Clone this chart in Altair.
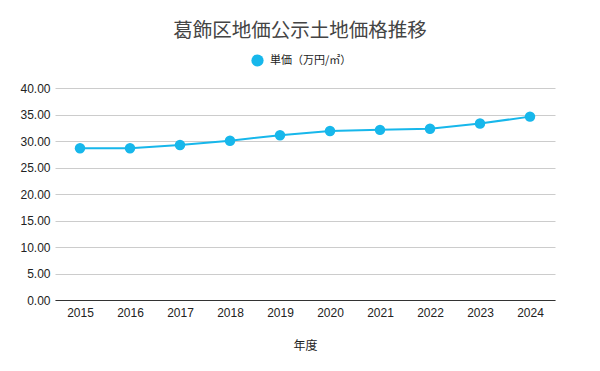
import altair as alt
import pandas as pd

years = ["2015", "2016", "2017", "2018", "2019", "2020", "2021", "2022", "2023", "2024"]
prices = [28.63, 28.63, 29.25, 30.06, 31.1, 31.9, 32.1, 32.3, 33.3, 34.6]
series_name = "単価（万円/㎡）"

df = pd.DataFrame({"年度": years, "単価": prices, "系列": [series_name] * len(years)})

COLOR = "#17b7eb"
FONT = "Liberation Sans, Noto Sans CJK JP, sans-serif"

x = alt.X(
    "年度:O",
    scale=alt.Scale(type="point", padding=0.5),
    axis=alt.Axis(
        labelAngle=0, ticks=False, domain=True, domainColor="#333333",
        labelPadding=7, titlePadding=22, labelFontSize=12, titleFontSize=12,
        labelColor="#222222", titleColor="#222222", titleFontWeight="normal",
        labelFont=FONT, titleFont="Noto Sans CJK JP",
    ),
)
y = alt.Y(
    "単価:Q",
    scale=alt.Scale(domain=[0, 40]),
    axis=alt.Axis(
        values=[0, 5, 10, 15, 20, 25, 30, 35, 40], format=".2f", title=None,
        ticks=False, domain=False, gridColor="#cccccc", labelPadding=5,
        labelFontSize=12, labelColor="#222222", labelFont=FONT,
    ),
)
color = alt.Color(
    "系列:N",
    scale=alt.Scale(range=[COLOR]),
    legend=alt.Legend(
        title=None, orient="none", legendX=196, legendY=-34, symbolType="circle",
        symbolSize=150, labelFontSize=11, labelColor="#222222",
        labelFont="Noto Sans CJK JP", symbolStrokeWidth=0, labelOffset=6,
    ),
)

base = alt.Chart(df).encode(x=x, y=y, color=color)
line = base.mark_line(strokeWidth=2)
points = base.mark_circle(size=110, opacity=1)

chart = (
    (line + points)
    .properties(
        width=500, height=212,
        autosize=alt.AutoSizeParams(type="none"),
        padding={"left": 55, "top": 88, "right": 45, "bottom": 71},
        title=alt.TitleParams(
            "葛飾区地価公示土地価格推移", anchor="middle", fontSize=19.5,
            font="Noto Sans CJK JP", fontWeight="normal", color="#444444",
            offset=13, dx=-5,
        ),
    )
    .configure_view(stroke=None)
)

chart.save("out.html", embed_options={"renderer": "svg", "actions": False})
